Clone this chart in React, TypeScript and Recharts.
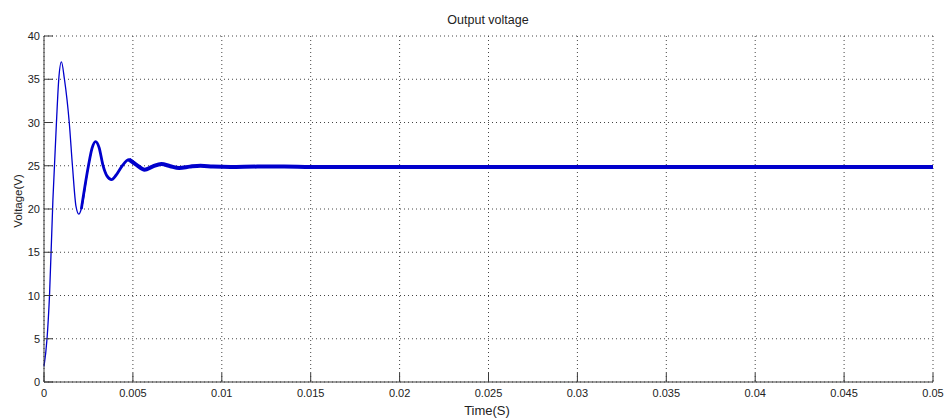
import React from 'react';
import { LineChart, Line, XAxis, YAxis, CartesianGrid } from 'recharts';

const timeS = [
  0, 0.00017, 0.00031, 0.0005, 0.0007, 0.00083, 0.00098, 0.00115, 0.00142, 0.0016,
  0.0018, 0.00196, 0.0021, 0.0025, 0.0027, 0.0029, 0.0031, 0.0033, 0.00355, 0.0038,
  0.00405, 0.0044, 0.00478, 0.0052, 0.00566, 0.0061, 0.0066, 0.0071, 0.0076, 0.0082,
  0.0088, 0.0095, 0.0105, 0.012, 0.0135, 0.015, 0.02, 0.03, 0.04, 0.05,
];
const voltage = [
  1.8, 5, 10, 21, 30, 35, 37, 35, 30, 25,
  20.3, 19.4, 20, 25, 27, 27.8, 27.1, 25.2, 23.8, 23.4,
  23.9, 25, 25.7, 25.1, 24.55, 24.9, 25.2, 24.95, 24.75, 24.9,
  25.0, 24.9, 24.85, 24.9, 24.9, 24.85, 24.85, 24.85, 24.85, 24.85,
];
const xTicks = [0, 0.005, 0.01, 0.015, 0.02, 0.025, 0.03, 0.035, 0.04, 0.045, 0.05];
const yTicks = [0, 5, 10, 15, 20, 25, 30, 35, 40];
const titleText = 'Output voltage';
const xLabelText = 'Time(S)';
const yLabelText = 'Voltage(V)';

const rows = timeS.map((t, i) => ({
  t,
  thin: t <= 0.0027 ? voltage[i] : null,
  mid: t >= 0.0021 && t <= 0.0052 ? voltage[i] : null,
  thick: t >= 0.00478 ? voltage[i] : null,
}));

const FONT = '"Liberation Sans", Arial, Helvetica, sans-serif';
const AXIS = '#3a3a3a';
const BLUE = '#0000cc';
const TL = 9;

const BottomTick = (props: any) => {
  const { x, y, payload } = props;
  return (
    <g>
      <line x1={x} y1={y} x2={x} y2={y - TL} stroke={AXIS} strokeWidth={1} />
      <text x={x} y={y + 15} textAnchor="middle" fontSize={11} fontFamily={FONT} fill="#222">
        {String(payload.value)}
      </text>
    </g>
  );
};
const TopTick = (props: any) => {
  const { x, y } = props;
  return <line x1={x} y1={y} x2={x} y2={y + TL} stroke={AXIS} strokeWidth={1} />;
};
const LeftTick = (props: any) => {
  const { x, y, payload } = props;
  return (
    <g>
      <line x1={x} y1={y} x2={x + TL} y2={y} stroke={AXIS} strokeWidth={1} />
      <text x={x - 4} y={y + 4} textAnchor="end" fontSize={11} fontFamily={FONT} fill="#222">
        {String(payload.value)}
      </text>
    </g>
  );
};
const RightTick = (props: any) => {
  const { x, y } = props;
  return <line x1={x} y1={y} x2={x - TL} y2={y} stroke={AXIS} strokeWidth={1} />;
};

export default function App() {
  return (
    <div style={{ position: 'absolute', left: 0, top: 0, width: 944, height: 419, background: '#fff' }}>
      <LineChart
        width={944}
        height={419}
        data={rows}
        margin={{ top: 36, right: 11, left: 0, bottom: 0 }}
      >
        <CartesianGrid stroke="#444" strokeDasharray="1 3" />
        <XAxis
          dataKey="t"
          type="number"
          domain={[0, 0.05]}
          ticks={xTicks}
          height={37}
          tickSize={0}
          tickMargin={0}
          tickLine={false}
          axisLine={{ stroke: AXIS }}
          tick={<BottomTick />}
          interval={0}
        />
        <XAxis
          xAxisId="top"
          orientation="top"
          dataKey="t"
          type="number"
          domain={[0, 0.05]}
          ticks={xTicks}
          height={0}
          tickSize={0}
          tickMargin={0}
          tickLine={false}
          axisLine={{ stroke: AXIS }}
          tick={<TopTick />}
          interval={0}
        />
        <YAxis
          type="number"
          domain={[0, 40]}
          ticks={yTicks}
          width={44}
          tickSize={0}
          tickMargin={0}
          tickLine={false}
          axisLine={{ stroke: AXIS }}
          tick={<LeftTick />}
          interval={0}
        />
        <YAxis
          yAxisId="right"
          orientation="right"
          type="number"
          domain={[0, 40]}
          ticks={yTicks}
          width={0}
          tickSize={0}
          tickMargin={0}
          tickLine={false}
          axisLine={{ stroke: AXIS }}
          tick={<RightTick />}
          interval={0}
        />
        <Line dataKey="thin" type="monotone" stroke={BLUE} strokeWidth={1.3} dot={false} isAnimationActive={false} connectNulls={false} />
        <Line dataKey="mid" type="monotone" stroke={BLUE} strokeWidth={2.8} dot={false} isAnimationActive={false} connectNulls={false} />
        <Line dataKey="thick" type="monotone" stroke={BLUE} strokeWidth={4} dot={false} isAnimationActive={false} connectNulls={false} />
      </LineChart>
      <div style={{ position: 'absolute', left: 388, top: 12, width: 200, textAlign: 'center', fontFamily: FONT, fontSize: 12.5, color: '#222', lineHeight: '16px' }}>
        {titleText}
      </div>
      <div style={{ position: 'absolute', left: 387, top: 403, width: 200, textAlign: 'center', fontFamily: FONT, fontSize: 13, color: '#222', lineHeight: '16px' }}>
        {xLabelText}
      </div>
      <div
        style={{
          position: 'absolute', left: 18 - 50, top: 201 - 8, width: 100, height: 16, textAlign: 'center',
          fontFamily: FONT, fontSize: 11.5, color: '#222', lineHeight: '16px', transform: 'rotate(-90deg)',
        }}
      >
        {yLabelText}
      </div>
    </div>
  );
}
